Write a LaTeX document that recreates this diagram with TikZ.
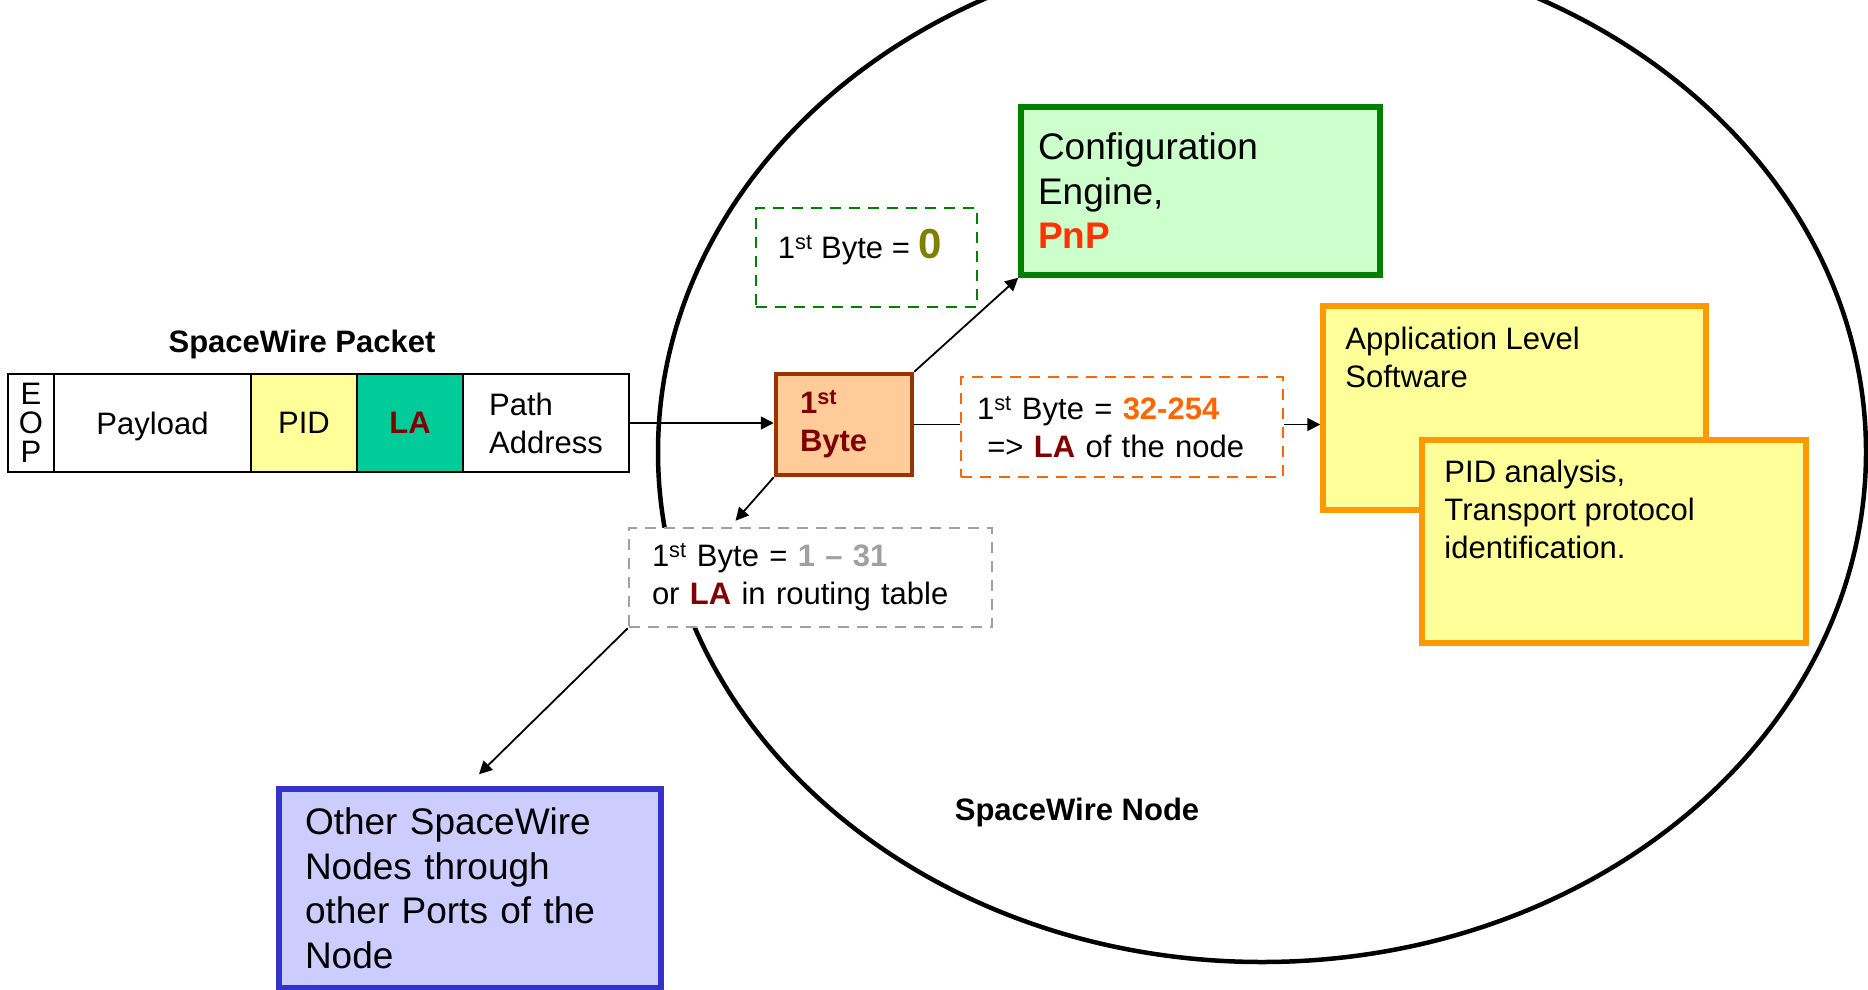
\documentclass[tikz,border=0pt]{standalone}
\usepackage{fontspec}
\setmainfont{Liberation Sans}
\usetikzlibrary{arrows.meta}

\definecolor{lared}{HTML}{800000}
\definecolor{pidyellow}{HTML}{FFFF99}
\definecolor{lagreen}{HTML}{00CC99}
\definecolor{bytefill}{HTML}{FFCC99}
\definecolor{bytedraw}{HTML}{993300}
\definecolor{cfgfill}{HTML}{CCFFCC}
\definecolor{cfgdraw}{HTML}{008000}
\definecolor{pnpred}{HTML}{FF3300}
\definecolor{zeroolive}{HTML}{808000}
\definecolor{laorange}{HTML}{FF6600}
\definecolor{portgray}{HTML}{A0A0A0}
\definecolor{appdraw}{HTML}{FF9900}
\definecolor{nodefill}{HTML}{CCCCFF}
\definecolor{nodedraw}{HTML}{3333CC}

\newcommand{\bodyfont}{\fontsize{31}{38}\selectfont}
\newcommand{\bigfont}{\fontsize{37}{44.5}\selectfont}
\newcommand{\onest}{1\textsuperscript{st}}

\tikzstyle{cell}=[draw, line width=2pt, fill=white, minimum height=98pt, inner sep=0pt, font=\bodyfont, align=center]
\tikzstyle{colbox}=[draw, line width=5.5pt, inner sep=0pt]
\tikzstyle{dashbox}=[draw, dash pattern=on 11pt off 8pt, line width=2.5pt, fill=white, inner ysep=0pt, font=\bodyfont, align=left]
\tikzstyle{txt}=[inner sep=0pt, align=left, font=\bodyfont, anchor=north west]
\tikzstyle{heading}=[font=\bfseries\bodyfont, anchor=base]
\tikzstyle{conn}=[line width=1.8pt]

\begin{document}
\begin{tikzpicture}[x=1pt, y=-1pt, >={Triangle[length=13pt, width=13pt]}]
\useasboundingbox (0, 0) rectangle (1868, 990);
\clip (0, 0) rectangle (1868, 990);

% the node itself
\draw[line width=4.5pt] (1262, 452) ellipse [x radius=604pt, y radius=510pt];

% packet fields
\node[heading] at (302, 352) (pkttitle) {SpaceWire Packet};
\node[cell, minimum width=46pt, font=\fontsize{31}{29}\selectfont] at (31, 423) (eop) {E\\O\\P};
\node[cell, minimum width=197pt, text depth=0pt] at (152.5, 423) (payload) {Payload};
\node[cell, minimum width=106pt, fill=pidyellow] at (304, 423) (pid) {PID};
\node[cell, minimum width=106pt, fill=lagreen, text=lared, font=\bfseries\bodyfont] at (410, 423) (la) {LA};
\node[cell, minimum width=166pt, align=left] at (546, 423) (path) {Path\\Address};

% first byte and what it selects
\node[colbox, draw=bytedraw, fill=bytefill, line width=4.5pt, minimum width=136pt, minimum height=101pt, text width=88pt, inner xsep=24pt, align=left, text=lared, font=\bfseries\bodyfont] at (844, 424.5) (byte) {\onest\\Byte};

\node[dashbox, draw=cfgdraw, minimum width=221pt, minimum height=99pt] at (866.5, 257.5) (zero) {};
\node[txt] at ([xshift=23pt, yshift=-22pt]zero.north west) (zerotxt) {\onest{} Byte = {\fontsize{42}{42}\selectfont\bfseries\color{zeroolive}0}};

\node[colbox, draw=cfgdraw, fill=cfgfill, minimum width=359pt, minimum height=168pt, text width=325pt, inner xsep=17pt, align=left, font=\bigfont] at (1200.5, 191) (cfg) {Configuration\\Engine,\\\textcolor{pnpred}{\bfseries PnP}};

\node[dashbox, draw=laorange, minimum width=322pt, minimum height=100pt, text width=290pt, inner xsep=16pt] at (1122, 427) (own) {\onest{} Byte = \textcolor{laorange}{\bfseries 32-254}\\\ {=>} \textcolor{lared}{\bfseries LA} of the node};

\node[colbox, draw=appdraw, fill=pidyellow, minimum width=383pt, minimum height=204pt] at (1514.5, 408) (app) {};
\node[txt] at ([xshift=25pt, yshift=-24pt]app.north west) (apptxt) {Application Level\\Software};
\node[colbox, draw=appdraw, fill=pidyellow, minimum width=384pt, minimum height=203pt] at (1614, 541.5) (pidsw) {};
\node[txt] at ([xshift=25pt, yshift=-23pt]pidsw.north west) (pidtxt) {PID analysis,\\Transport protocol\\identification.};

\node[dashbox, draw=portgray, minimum width=363pt, minimum height=99pt, text width=317pt, inner xsep=23pt] at (810.5, 577.5) (route) {\onest{} Byte = \textcolor{portgray}{\bfseries 1 -- 31}\\or \textcolor{lared}{\bfseries LA} in routing table};

\node[colbox, draw=nodedraw, fill=nodefill, minimum width=382pt, minimum height=199pt, text width=330pt, inner xsep=26pt, align=left, font=\bigfont] at (470, 888.5) (others) {Other SpaceWire\\Nodes through\\other Ports of the\\Node};

\node[heading] at (1077, 820) (nodetitle) {SpaceWire Node};

% connectors
\draw[conn, ->] (path.east) -- (path.east -| byte.west);
\draw[conn, ->] (byte.north east) -- (cfg.south west);
\draw[conn] (byte.east) -- (byte.east -| own.west);
\draw[conn, ->] (byte.east -| own.east) -- (byte.east -| app.west);
\draw[conn, ->] (byte.south west) -- ([xshift=-75pt, yshift=6pt]route.north);
\draw[conn, ->] (route.south west) -- ([xshift=9pt, yshift=12pt]others.north);
\end{tikzpicture}
\end{document}
